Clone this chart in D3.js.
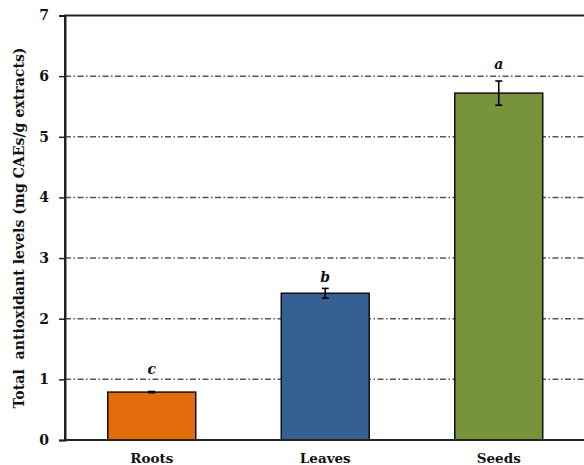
<!DOCTYPE html>
<html>
<head>
<meta charset="utf-8">
<script src="https://cdn.jsdelivr.net/npm/d3@7"></script>
<style>
  html, body { margin: 0; padding: 0; background: #fff; overflow: hidden; }
  svg { display: block; }
  text { font-family: "DejaVu Serif", "Liberation Serif", serif; font-weight: bold; fill: #111; }
</style>
</head>
<body>
<svg id="chart" width="584" height="465"></svg>
<script>
// Total antioxidant levels by plant part
const categories = ["Roots", "Leaves", "Seeds"];
const values = [0.79, 2.42, 5.72];
const errors = [0.01, 0.08, 0.20];
const letters = ["c", "b", "a"];
const letterY = [1.09, 2.60, 6.11];
const barColors = ["#E46C0A", "#366092", "#77933C"];
const yTicks = [0, 1, 2, 3, 4, 5, 6, 7];
const yTitle = "Total  antioxidant levels (mg CAEs/g extracts)";

const svg = d3.select("#chart");
const plotLeft = 65, plotRight = 585.5, plotTop = 15.5, plotBottom = 440;
const serif = "DejaVu Serif, Liberation Serif, serif";

const x = d3.scaleBand().domain(categories).range([plotLeft, plotRight]).paddingInner(0.493).paddingOuter(0.2465);
const y = d3.scaleLinear().domain([0, 7]).range([plotBottom, plotTop]);

// dash-dot gridlines
svg.append("g")
  .selectAll("line")
  .data(yTicks.filter(t => t > 0 && t < 7))
  .join("line")
  .attr("x1", plotLeft).attr("x2", plotRight)
  .attr("y1", d => y(d)).attr("y2", d => y(d))
  .attr("stroke", "#555")
  .attr("stroke-width", 1.5)
  .attr("stroke-dasharray", "6,2.5,1.5,2.5");

// bars
svg.append("g")
  .selectAll("rect")
  .data(categories)
  .join("rect")
  .attr("x", d => x(d))
  .attr("width", x.bandwidth())
  .attr("y", (d, i) => y(values[i]))
  .attr("height", (d, i) => y(0) - y(values[i]))
  .attr("fill", (d, i) => barColors[i])
  .attr("stroke", "#111")
  .attr("stroke-width", 1.5);

// error bars
const eb = svg.append("g").attr("stroke", "#000").attr("stroke-width", 1.6);
categories.forEach((c, i) => {
  const cx = x(c) + x.bandwidth() / 2;
  const y1 = y(values[i] + errors[i]), y2 = y(values[i] - errors[i]);
  eb.append("line").attr("x1", cx).attr("x2", cx).attr("y1", y1).attr("y2", y2);
  eb.append("line").attr("x1", cx - 3.5).attr("x2", cx + 3.5).attr("y1", y1).attr("y2", y1);
  eb.append("line").attr("x1", cx - 3.5).attr("x2", cx + 3.5).attr("y1", y2).attr("y2", y2);
});

// significance letters
svg.append("g")
  .selectAll("text")
  .data(categories)
  .join("text")
  .attr("x", d => x(d) + x.bandwidth() / 2)
  .attr("y", (d, i) => y(letterY[i]))
  .attr("text-anchor", "middle")
  .style("font-style", "italic")
  .style("font-size", "14px")
  .text((d, i) => letters[i]);

// plot frame
svg.append("rect")
  .attr("x", plotLeft).attr("y", plotTop)
  .attr("width", plotRight - plotLeft).attr("height", plotBottom - plotTop)
  .attr("fill", "none").attr("stroke", "#222").attr("stroke-width", 2);

// y axis
const yAxis = svg.append("g")
  .attr("transform", `translate(${plotLeft},0)`)
  .call(d3.axisLeft(y).tickValues(yTicks).tickFormat(d3.format("d")).tickSize(6).tickPadding(10));
yAxis.select(".domain").attr("stroke", "#222").attr("stroke-width", 2);
yAxis.selectAll(".tick line").attr("stroke", "#222").attr("stroke-width", 1.5);
yAxis.selectAll(".tick text").style("font-size", "14px").style("font-family", serif).style("font-weight", "bold").attr("fill", "#111");

// x axis labels
const xAxis = svg.append("g")
  .attr("transform", `translate(0,${plotBottom})`)
  .call(d3.axisBottom(x).tickSize(0).tickPadding(13.5));
xAxis.select(".domain").remove();
xAxis.selectAll(".tick text").style("font-size", "13.5px").style("font-family", serif).style("font-weight", "bold").attr("fill", "#111");

// y axis title
svg.append("text")
  .attr("transform", "translate(24,228) rotate(-90)")
  .attr("text-anchor", "middle")
  .style("font-size", "14.1px")
  .style("white-space", "pre")
  .text(yTitle);
</script>
</body>
</html>
